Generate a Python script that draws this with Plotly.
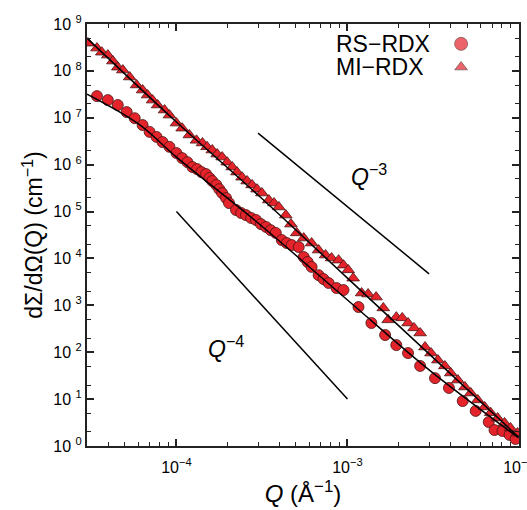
import plotly.graph_objects as go

# ---------------- data ----------------
rs_q = [3.43e-5, 3.97e-5, 4.54e-5, 5.12e-5, 5.70e-5, 6.34e-5, 6.97e-5, 7.65e-5, 8.29e-5, 9.10e-5,
        1.00e-4, 1.08e-4, 1.16e-4, 1.24e-4, 1.32e-4, 1.40e-4, 1.49e-4, 1.56e-4, 1.62e-4, 1.71e-4,
        1.78e-4, 1.85e-4, 1.95e-4, 2.03e-4, 2.23e-4, 2.39e-4, 2.55e-4, 2.73e-4, 2.92e-4, 3.12e-4,
        3.34e-4, 3.56e-4, 3.81e-4, 4.13e-4, 4.42e-4, 4.72e-4, 5.19e-4, 5.55e-4, 5.85e-4, 6.17e-4,
        6.78e-4, 7.24e-4, 7.76e-4, 8.63e-4, 9.48e-4, 1.16e-3, 1.38e-3, 1.66e-3, 1.93e-3, 2.26e-3,
        2.66e-3, 3.25e-3, 3.92e-3, 4.72e-3, 5.62e-3, 6.70e-3, 7.24e-3, 8.07e-3, 8.87e-3, 9.62e-3]
rs_i = [2.9e7, 2.38e7, 1.87e7, 1.32e7, 9.8e6, 7.0e6, 5.0e6, 3.9e6, 3.03e6, 2.4e6,
        1.77e6, 1.38e6, 1.13e6, 8.9e5, 8.05e5, 6.95e5, 6.3e5, 5.2e5, 4.47e5, 3.7e5,
        3.0e5, 2.48e5, 1.94e5, 1.52e5, 1.08e5, 9.3e4, 8.4e4, 7.3e4, 6.6e4, 5.4e4,
        4.7e4, 4.0e4, 3.5e4, 2.47e4, 2.13e4, 1.93e4, 1.75e4, 1.07e4, 8.4e3, 6.6e3,
        4.4e3, 3.64e3, 3.0e3, 2.34e3, 2.12e3, 9.2e2, 4.2e2, 2.33e2, 1.42e2, 96,
        51, 28, 17.3, 9.1, 5.6, 3.25, 2.19, 2.09, 1.72, 1.41]

mi_q = [3.04e-5, 3.43e-5, 3.66e-5, 3.97e-5, 4.25e-5, 4.54e-5, 4.86e-5, 5.33e-5, 5.85e-5, 6.34e-5,
        6.78e-5, 7.25e-5, 7.76e-5, 8.52e-5, 9.10e-5, 1.00e-4, 1.08e-4, 1.19e-4, 1.31e-4, 1.42e-4,
        1.51e-4, 1.62e-4, 1.73e-4, 1.85e-4, 1.98e-4, 2.12e-4, 2.26e-4, 2.42e-4, 2.59e-4, 2.77e-4,
        2.96e-4, 3.16e-4, 3.47e-4, 3.72e-4, 3.97e-4, 4.36e-4, 4.67e-4, 5.05e-4, 5.55e-4, 6.17e-4,
        6.78e-4, 7.45e-4, 8.07e-4, 8.87e-4, 9.48e-4, 1.01e-3, 1.08e-3, 1.21e-3, 1.32e-3, 1.47e-3,
        1.62e-3, 1.73e-3, 1.93e-3, 2.09e-3, 2.26e-3, 2.45e-3, 2.66e-3, 2.84e-3, 3.08e-3, 3.38e-3,
        3.71e-3, 4.02e-3, 4.42e-3, 4.86e-3, 5.26e-3, 5.78e-3, 6.34e-3, 6.88e-3, 7.55e-3, 8.29e-3,
        8.98e-3, 9.87e-3]
mi_i = [3.9e8, 3.06e8, 2.5e8, 2.17e8, 1.62e8, 1.2e8, 1.04e8, 7.4e7, 5.0e7, 3.9e7,
        3.05e7, 2.38e7, 1.87e7, 1.46e7, 1.14e7, 7.7e6, 6.0e6, 4.3e6, 3.3e6, 2.9e6,
        2.4e6, 2.05e6, 1.68e6, 1.45e6, 1.13e6, 8.9e5, 6.95e5, 5.4e5, 4.47e5, 3.7e5,
        3.0e5, 2.48e5, 1.76e5, 1.52e5, 1.25e5, 8.4e4, 5.4e4, 3.5e4, 2.72e4, 2.13e4,
        1.51e4, 1.18e4, 1.02e4, 9.2e3, 7.2e3, 5.7e3, 3.8e3, 1.83e3, 1.74e3, 1.5e3,
        8.8e2, 4.9e2, 5.6e2, 5.4e2, 4.2e2, 3.3e2, 2.57e2, 1.29e2, 96, 68,
        51, 36, 25.5, 18.1, 13.5, 9.6, 6.8, 5.1, 3.95, 3.1,
        2.42, 1.89]

rs_fit_q = [3.0e-5, 6.0e-5, 1.0e-4, 3.0e-4, 1.0e-3, 3.0e-3, 1.0e-2]
rs_fit_i = [3.2e7, 7.4e6, 1.45e6, 5.7e4, 1.3e3, 42, 1.5]
mi_fit_q = [3.0e-5, 1.0e-4, 3.0e-4, 1.0e-3, 3.0e-3, 1.0e-2]
mi_fit_i = [5.0e8, 8.1e6, 2.25e5, 3.8e3, 92, 1.56]

q3_q = [3.0e-4, 3.0e-3]
q3_i = [4.7e6, 4.7e3]
q4_q = [1.0e-4, 1.0e-3]
q4_i = [1.0e5, 1.0e1]

series_names = ["RS\u2212RDX", "MI\u2212RDX"]
x_tickvals = [1e-4, 1e-3, 1e-2]
x_ticktext = ["10<sup>\u22124</sup>", "10<sup>\u22123</sup>", "10<sup>\u22122</sup>"]
y_tickvals = [10 ** k for k in range(0, 10)]
y_ticktext = ["10 <sup>%d</sup>" % k for k in range(0, 10)]

# ---------------- styles ----------------
RED = "#E5232A"
EDGE = "#4a1414"
FONT = "Liberation Sans, Arial, sans-serif"

fig = go.Figure()

fig.add_trace(go.Scatter(x=rs_q, y=rs_i, mode="markers", name=series_names[0],
                         marker=dict(symbol="circle", size=11, color=RED,
                                     line=dict(color=EDGE, width=0.8))))
fig.add_trace(go.Scatter(x=mi_q, y=mi_i, mode="markers", name=series_names[1],
                         marker=dict(symbol="triangle-up", size=11, color=RED,
                                     line=dict(color=EDGE, width=0.8))))
fig.add_trace(go.Scatter(x=rs_fit_q, y=rs_fit_i, mode="lines", line=dict(color="black", width=1.5, shape="spline")))
fig.add_trace(go.Scatter(x=mi_fit_q, y=mi_fit_i, mode="lines", line=dict(color="black", width=1.5, shape="spline")))
fig.add_trace(go.Scatter(x=q3_q, y=q3_i, mode="lines", line=dict(color="black", width=1.5)))
fig.add_trace(go.Scatter(x=q4_q, y=q4_i, mode="lines", line=dict(color="black", width=1.5)))

# legend keys (marker on the right of the text, as in the reference)
fig.add_trace(go.Scatter(x=[0.866, 0.866], y=[0.953, 0.898], mode="markers", xaxis="x2", yaxis="y2",
                         marker=dict(symbol=["circle", "triangle-up"], size=[13, 11], color=RED,
                                     line=dict(color=EDGE, width=0.8)), hoverinfo="skip"))

annotations = [
    dict(text=series_names[0], xref="paper", yref="paper", x=0.571, y=0.953, xanchor="left",
         yanchor="middle", height=20, showarrow=False, font=dict(size=23, family=FONT, color="black")),
    dict(text=series_names[1], xref="paper", yref="paper", x=0.571, y=0.898, xanchor="left",
         yanchor="middle", height=20, showarrow=False, font=dict(size=23, family=FONT, color="black")),
    dict(text="<i>Q</i><sup>\u22123</sup>", xref="x", yref="y", x=-2.99, y=5.78, xanchor="left",
         yanchor="middle", showarrow=False, font=dict(size=23, family=FONT, color="black")),
    dict(text="<i>Q</i><sup>\u22124</sup>", xref="x", yref="y", x=-3.83, y=2.12, xanchor="left",
         yanchor="middle", showarrow=False, font=dict(size=23, family=FONT, color="black")),
]

axis_common = dict(showline=True, linecolor="#222", linewidth=2, mirror="ticks",
                   ticks="inside", ticklen=7, tickwidth=1.5, tickcolor="#222",
                   showgrid=False, zeroline=False,
                   tickfont=dict(size=16, family=FONT, color="black"))

fig.update_layout(
    width=527, height=510,
    margin=dict(l=87, r=6, t=24, b=64),
    paper_bgcolor="white", plot_bgcolor="white",
    showlegend=False,
    font=dict(family=FONT, color="black"),
    annotations=annotations,
    xaxis=dict(type="log", range=[-4.523, -1.997], tickvals=x_tickvals, ticktext=x_ticktext,
               ticklabelstandoff=6, ticklabeloverflow="allow", automargin=False,
               minor=dict(ticks="inside", ticklen=4, tickwidth=1.2, tickcolor="#222", dtick="D1"),
               title=dict(text="<i>Q</i> (\u00c5<sup>\u22121</sup>)", font=dict(size=24, family=FONT), standoff=10),
               **axis_common),
    yaxis=dict(type="log", range=[0, 9], tickvals=y_tickvals, ticktext=y_ticktext,
               minor=dict(ticks="inside", ticklen=4, tickwidth=1.2, tickcolor="#222", dtick="D2"),
               title=dict(text="d\u03a3/d\u03a9(Q) (cm<sup>\u22121</sup>)", font=dict(size=23, family=FONT), standoff=4),
               **axis_common),
    xaxis2=dict(overlaying="x", range=[0, 1], visible=False),
    yaxis2=dict(overlaying="y", range=[0, 1], visible=False),
)

fig.write_html("out.html", config={"displayModeBar": False},
               post_script="document.body.style.margin='0';")
